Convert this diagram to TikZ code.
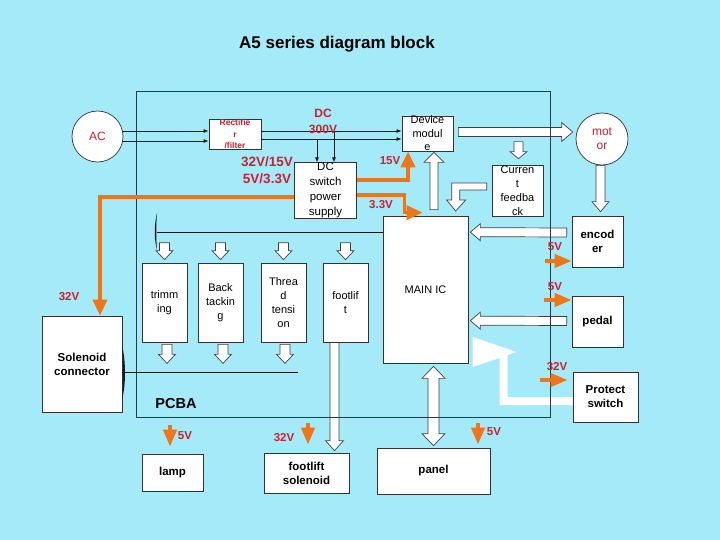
\documentclass[tikz,border=0pt]{standalone}
\usepackage{fontspec}
\setmainfont{Liberation Sans}
\usetikzlibrary{calc,arrows.meta,positioning}
\pgfdeclarelayer{back}
\pgfdeclarelayer{mid}
\pgfsetlayers{back,mid,main}

\definecolor{skyback}{RGB}{165,234,248}
\definecolor{voltorange}{RGB}{240,116,24}
\definecolor{voltred}{RGB}{204,32,48}
\definecolor{pcbline}{RGB}{35,60,75}

\tikzset{arrow_shaft/.store in=\shaftw, arrow_head/.store in=\headw,
  arrow_len/.store in=\headl, arrow_shaft=4pt, arrow_head=9pt, arrow_len=10pt}

% hollow block arrow from #2 to #3
\newcommand{\blockarrow}[3][]{%
  \draw[block_arrow,#1] let \p1=(#2), \p2=(#3),
    \n1={veclen(\x2-\x1,\y2-\y1)}, \n2={atan2(\y2-\y1,\x2-\x1)} in
    {[shift={(\p1)},rotate=\n2]
    (0pt,-\shaftw) -- (\n1-\headl,-\shaftw) -- (\n1-\headl,-\headw)
    -- (\n1+0pt,0pt) -- (\n1-\headl,\headw) -- (\n1-\headl,\shaftw)
    -- (0pt,\shaftw) -- cycle};}
% same, with a head at both ends
\newcommand{\blockdarrow}[3][]{%
  \draw[block_arrow,#1] let \p1=(#2), \p2=(#3),
    \n1={veclen(\x2-\x1,\y2-\y1)}, \n2={atan2(\y2-\y1,\x2-\x1)} in
    {[shift={(\p1)},rotate=\n2]
    (0pt,0pt) -- (\headl,-\headw) -- (\headl,-\shaftw) -- (\n1-\headl,-\shaftw)
    -- (\n1-\headl,-\headw) -- (\n1+0pt,0pt) -- (\n1-\headl,\headw)
    -- (\n1-\headl,\shaftw) -- (\headl,\shaftw) -- (\headl,\headw) -- cycle};}

\begin{document}
\begin{tikzpicture}[x=1pt,y=-1pt,
    box/.style={draw=black!80, fill=white, line width=0.7pt, inner sep=0pt,
      align=center, font=\fontsize{11}{14}\selectfont},
    bold_box/.style={box, font=\fontsize{11.5}{14}\selectfont\bfseries},
    box_size/.style 2 args={minimum width=#1pt, minimum height=#2pt},
    round_node/.style={circle, draw=black!80, fill=white, line width=0.7pt,
      minimum size=51pt, inner sep=0pt, text=voltred, align=center,
      font=\fontsize{12}{14}\selectfont},
    block_arrow/.style={draw=black!75, fill=white, line width=0.7pt},
    thin_arrow/.style={draw=black!90, line width=0.8pt, -{Latex[length=5pt,width=4pt]}},
    thin_line/.style={draw=black!90, line width=0.8pt},
    pcb_frame/.style={draw=pcbline, line width=0.8pt},
    volt_arrow/.style={draw=voltorange, line width=3.5pt,
      -{Triangle[length=16pt,width=14pt]}},
    volt_small/.style={draw=voltorange, line width=4pt,
      -{Triangle[length=17pt,width=13pt]}},
    volt_label/.style={text=voltred, inner sep=0pt,
      font=\fontsize{11.5}{13}\selectfont\bfseries}]

\begin{pgfonlayer}{back}
  \fill[skyback] (0,0) rectangle (720,540);
\end{pgfonlayer}
\useasboundingbox (0,0) rectangle (720,540);

\node (title) at (337,44) [font=\fontsize{17}{20}\selectfont\bfseries] {A5 series diagram block};

% blocks
\path (97.5,136.5) node(ac) [round_node] {AC}
  (235,134.5) node(rect) [box, box_size={52}{29}, text=voltred,
     font=\fontsize{8.5}{11.5}\selectfont\bfseries] {Rectifie\\r\\/filter}
  (427.5,133.5) node(dev) [box, box_size={51}{29}, font=\fontsize{11}{13.5}\selectfont] {Device\\modul\\e}
  (325.5,190.5) node(dcps) [box, box_size={62}{39}, font=\fontsize{11.5}{15}\selectfont] {DC\\switch\\power\\supply}
  (602,139) node(motor) [round_node, minimum size=52pt] {mot\\or}
  (517.5,190.5) node(fb) [box, box_size={51}{51}] {Curren\\t\\feedba\\ck}
  (425.5,289.5) node(ic) [box, box_size={85}{147}] {MAIN IC}
  (164.5,302.5) node(trim) [box, box_size={45}{79}] {trimm\\ing}
  (220.5,302.5) node(back) [box, box_size={45}{79}] {Back\\tackin\\g}
  (283.5,302.5) node(thread) [box, box_size={45}{79}] {Threa\\d\\tensi\\on}
  (345.5,302.5) node(foot) [box, box_size={45}{79}] {footlif\\t}
  (597.5,241.5) node(enc) [bold_box, box_size={51}{51}] {encod\\er}
  (597.5,321.5) node(pedal) [bold_box, box_size={51}{51}] {pedal}
  (605.5,397) node(prot) [bold_box, box_size={65}{50}] {Protect\\switch}
  (82,364) node(sol) [bold_box, box_size={80}{96}] {Solenoid\\connector}
  (172.5,472.5) node(lamp) [bold_box, box_size={61}{37}] {lamp}
  (306.5,473) node(fsol) [bold_box, box_size={85}{40}] {footlift\\solenoid}
  (433.5,471) node(panel) [bold_box, box_size={113}{46}] {panel};

\node (pcba) at (176,404) [font=\fontsize{14.5}{16}\selectfont\bfseries] {PCBA};

\begin{pgfonlayer}{mid}
  \draw[pcb_frame] (136,91) rectangle (550,417);
\end{pgfonlayer}

% hollow arrows
\begin{pgfonlayer}{back}
  \blockarrow[arrow_shaft=4.5pt,arrow_head=9.5pt,arrow_len=11pt]{$(dev.east)+(5,-1.5)$}{$(motor.west)+(-3,-7)$}
  \blockarrow[arrow_shaft=4.5pt,arrow_head=8.5pt]{$(motor.south)+(-1.5,0)$}{$(enc.north)+(3,-4)$}
  \blockarrow[arrow_shaft=4.5pt,arrow_head=8.5pt,arrow_len=7pt]{$(fb.north)+(1,-23)$}{$(fb.north)+(1,-6)$}
  \foreach \m in {trim,back,thread,foot}
    \blockarrow[arrow_shaft=5pt,arrow_head=8.5pt,arrow_len=9pt]{$(\m.north)+(0,-20)$}{$(\m.north)+(0,-3)$};
  \foreach \m/\dx in {trim/2.5,back/2.5,thread/1.5}
    \blockarrow[arrow_shaft=5pt,arrow_head=8.5pt,arrow_len=9pt]{$(\m.south)+(\dx,2)$}{$(\m.south)+(\dx,21)$};
  \blockarrow[arrow_shaft=4.5pt,arrow_head=8.5pt]{$(enc.west)+(-5,-9)$}{$(ic.north east)+(2,16.5)$}
  \blockarrow[arrow_shaft=4.5pt,arrow_head=8.5pt]{$(pedal.west)+(-5,-0.5)$}{$(ic.north east)+(2,105)$}
  \blockarrow[arrow_shaft=4pt,arrow_head=10pt]{$(ic.north)+(8.5,-6)$}{$(dev.south)+(6.5,1)$}
  \blockarrow[arrow_shaft=4.5pt,arrow_head=9pt]{$(foot.south)+(-11,0)$}{$(fsol.north)+(28,-2)$}
  \blockdarrow[arrow_shaft=5.5pt,arrow_head=11.5pt,arrow_len=12pt]{$(ic.south)+(8,3)$}{$(panel.north)+(0,-2)$}
  % feedback to main IC
  \begin{scope}[shift={(fb.west)}]
    \draw[block_arrow] (-5,-7.5) -- (-40,-7.5) -- (-40,9.5) -- (-45,9.5) -- (-36,20.5)
      -- (-26,9.5) -- (-32,9.5) -- (-32,-0.5) -- (-5,-0.5) -- cycle;
  \end{scope}
  % protect switch return
  \begin{scope}[shift={(prot.west)}]
    \fill[white] (0,0) -- (-65,0) -- (-65,-42) -- (-56,-45) -- (-100,-60) -- (-100,-30)
      -- (-73,-39) -- (-73,8) -- (0,8) -- cycle;
  \end{scope}
\end{pgfonlayer}

% signal lines
\draw[thin_arrow] (ac.east |- 0,131) -- (rect.west |- 0,131);
\draw[thin_arrow] (ac.east |- 0,141) -- (rect.west |- 0,141);
\draw[thin_arrow] (rect.east |- 0,131) -- (dev.west |- 0,131);
\draw[thin_arrow] (rect.east |- 0,139) -- (dev.west |- 0,139);
\draw[thin_arrow] (317,139) -- (317,139 |- dcps.north);
\draw[thin_arrow] (334,131) -- (334,131 |- dcps.north);
\draw[thin_line] (ic.west |- 0,232) -- (157,232);
\draw[thin_line] (sol.east |- 0,372) -- (298,372);
\fill[black!90] (157,213) .. controls (154,226) and (154,238) .. (157,250)
  .. controls (156,238) and (156,226) .. (157,213) -- cycle;
\fill[black!90] (122,345) .. controls (126,362) and (126,384) .. (122,400)
  .. controls (123.5,384) and (123.5,362) .. (122,345) -- cycle;

% supply arrows
\draw[volt_arrow] ([yshift=10.5pt]dcps.east) -| ([xshift=-19.5pt]dev.south);
\draw[volt_arrow] ([yshift=-4.5pt]dcps.east) -| ($(ic.north west)+(22,-3)$) -- ($(ic.north west)+(40,-3)$);
\draw[volt_arrow] ([yshift=-6.5pt]dcps.west) -| ([xshift=18pt]sol.north);
\draw[volt_small] ([xshift=-27pt,yshift=-19.5pt]enc.west) -- ([yshift=-19.5pt]enc.west);
\draw[volt_small] ([xshift=-28pt,yshift=21.5pt]pedal.west) -- ([yshift=21.5pt]pedal.west);
\draw[volt_small] ([xshift=-33pt,yshift=17pt]prot.west) -- ([xshift=-5pt,yshift=17pt]prot.west);
\draw[volt_small] ([xshift=-2.5pt,yshift=29pt]lamp.north) -- ([xshift=-2.5pt,yshift=7pt]lamp.north);
\draw[volt_small] ([xshift=1.5pt,yshift=30pt]fsol.north) -- ([xshift=1.5pt,yshift=8pt]fsol.north);
\draw[volt_small] ([xshift=44.5pt,yshift=25pt]panel.north) -- ([xshift=44.5pt,yshift=3pt]panel.north);

\path (390,161) node(v15) [volt_label] {15V}
  (381,205) node(v33) [volt_label] {3.3V}
  (267,170.5) node(vout) [volt_label, align=center, font=\fontsize{13.5}{17}\selectfont\bfseries] {32V/15V\\5V/3.3V}
  (323,121) node(vdc) [volt_label, align=center, font=\fontsize{12}{16}\selectfont\bfseries] {DC\\300V}
  (555,247) node(venc) [volt_label] {5V}
  (555,287) node(vped) [volt_label] {5V}
  (557,367) node(vprot) [volt_label] {32V}
  (69,297) node(vsol) [volt_label] {32V}
  (185,436) node(vlamp) [volt_label] {5V}
  (284,438) node(vfsol) [volt_label] {32V}
  (494,432) node(vpanel) [volt_label] {5V};

\end{tikzpicture}
\end{document}
